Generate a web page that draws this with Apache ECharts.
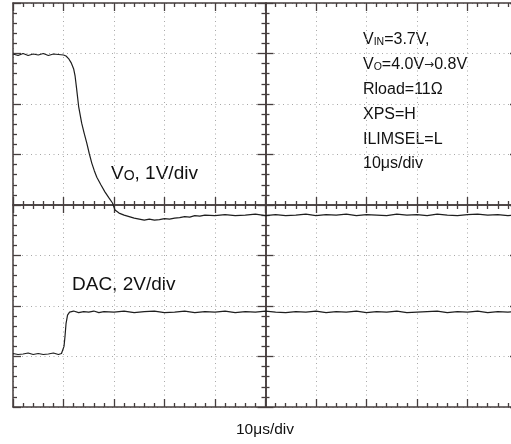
<!DOCTYPE html>
<html>
<head>
<meta charset="utf-8">
<script src="https://cdn.jsdelivr.net/npm/echarts@6/dist/echarts.min.js"></script>
<style>
html,body{margin:0;padding:0;background:#fff;}
#c{width:511px;height:444px;}
</style>
</head>
<body>
<div id="c"></div>
<script>
// Time in µs (10 µs/div), values in divisions
const voTime = [0,1,2,3,4,5,6,7,8,9,10,10.5,11,11.5,12,12.3,12.6,13,13.6,14.1,14.6,15.1,15.6,16.1,16.6,17.4,18.2,19,19.7,20.2,21,22,23,24,25,26,27,28,29,30,31,32,33,34,35,36,37,38,40,42,44,46,48,50,52,54,56,58,60,62,64,66,68,70,72,74,76,78,80,82,84,86,88,90,92,94,96,98,100];
const voValue = [2.99,2.96,3.00,2.96,2.99,2.97,3.00,2.96,2.99,2.98,2.97,2.95,2.90,2.82,2.70,2.55,2.30,1.95,1.62,1.42,1.23,1.02,0.83,0.68,0.55,0.40,0.26,0.14,0.04,-0.10,-0.16,-0.20,-0.23,-0.26,-0.28,-0.30,-0.28,-0.30,-0.29,-0.27,-0.28,-0.26,-0.25,-0.23,-0.24,-0.21,-0.22,-0.20,-0.21,-0.19,-0.21,-0.20,-0.18,-0.21,-0.19,-0.21,-0.20,-0.18,-0.21,-0.19,-0.20,-0.18,-0.21,-0.19,-0.20,-0.21,-0.18,-0.20,-0.19,-0.21,-0.18,-0.20,-0.21,-0.19,-0.18,-0.20,-0.19,-0.21,-0.19];
const dacTime = [0,1,2,3,4,5,6,7,8,9,9.6,9.9,10.1,10.3,10.5,10.8,11.2,12,13,14,15,16,17,18,20,22,24,26,28,30,32,34,36,38,40,42,44,46,48,50,52,54,56,58,60,62,64,66,68,70,72,74,76,78,80,82,84,86,88,90,92,94,96,98,100];
const dacValue = [-2.94,-2.96,-2.95,-2.93,-2.96,-2.94,-2.96,-2.95,-2.93,-2.96,-2.94,-2.92,-2.80,-2.60,-2.35,-2.18,-2.12,-2.10,-2.13,-2.11,-2.12,-2.10,-2.13,-2.11,-2.12,-2.10,-2.13,-2.11,-2.10,-2.13,-2.12,-2.10,-2.13,-2.11,-2.12,-2.10,-2.13,-2.11,-2.12,-2.10,-2.12,-2.13,-2.11,-2.12,-2.10,-2.13,-2.11,-2.12,-2.10,-2.13,-2.11,-2.12,-2.10,-2.13,-2.12,-2.11,-2.10,-2.13,-2.11,-2.12,-2.10,-2.13,-2.11,-2.12,-2.11];
const xTickInterval = 10;
const yTickInterval = 1;

const frameColor = '#463e3e';
const gridColor = '#a8a8a8';
const font = 'Liberation Sans, Arial, sans-serif';

function mkX(opt){
  return Object.assign({
    type:'value', min:0, max:100, interval:xTickInterval,
    axisLabel:{show:false},
    axisLine:{show:true, onZero:false, lineStyle:{color:frameColor, width:1.5}},
    axisTick:{show:true, inside:true, length:8, lineStyle:{color:frameColor, width:1.3}},
    minorTick:{show:true, splitNumber:5, length:4, lineStyle:{color:frameColor, width:1.3}},
    splitLine:{show:false},
    minorSplitLine:{show:false}
  }, opt);
}
function mkY(opt){
  return Object.assign({
    type:'value', min:-4, max:4, interval:yTickInterval,
    axisLabel:{show:false},
    axisLine:{show:true, onZero:false, lineStyle:{color:frameColor, width:1.5}},
    axisTick:{show:true, inside:true, length:8, lineStyle:{color:frameColor, width:1.3}},
    minorTick:{show:true, splitNumber:5, length:4, lineStyle:{color:frameColor, width:1.3}},
    splitLine:{show:false},
    minorSplitLine:{show:false}
  }, opt);
}
const dotted = {show:true, lineStyle:{color:gridColor, width:1, type:[1,3.5]}};

const chart = echarts.init(document.getElementById('c'), null, {renderer:'canvas'});
chart.setOption({
  animation:false,
  backgroundColor:'#ffffff',
  grid:{left:13, top:3, width:505, height:404, containLabel:false, outerBoundsMode:'none'},
  xAxis:[
    mkX({position:'bottom', splitLine:dotted}),
    mkX({position:'top'}),
    mkX({position:'bottom', min:-50, max:50, axisLine:{show:true, onZero:true, onZeroAxisIndex:0, lineStyle:{color:frameColor, width:1.5}}, axisTick:{show:true, inside:true, length:8, lineStyle:{color:frameColor, width:1.3}}}),
    mkX({position:'bottom', min:-50, max:50, axisLine:{show:true, onZero:true, onZeroAxisIndex:0, lineStyle:{color:frameColor, width:1.5}}, axisTick:{show:true, inside:false, length:8, lineStyle:{color:frameColor, width:1.3}}})
  ],
  yAxis:[
    mkY({position:'left', splitLine:dotted}),
    mkY({position:'right'}),
    mkY({position:'left', axisLine:{show:true, onZero:true, onZeroAxisIndex:2, lineStyle:{color:frameColor, width:1.5}}, axisTick:{show:true, inside:true, length:8, lineStyle:{color:frameColor, width:1.3}}}),
    mkY({position:'left', axisLine:{show:true, onZero:true, onZeroAxisIndex:2, lineStyle:{color:frameColor, width:1.5}}, axisTick:{show:true, inside:false, length:8, lineStyle:{color:frameColor, width:1.3}}})
  ],
  series:[
    {type:'line', name:'Vo', xAxisIndex:0, yAxisIndex:0, showSymbol:false, symbol:'none',
     data: voTime.map((t,i)=>[t, voValue[i]]),
     lineStyle:{color:'#1e1e1e', width:1.2}},
    {type:'line', name:'DAC', xAxisIndex:0, yAxisIndex:0, showSymbol:false, symbol:'none',
     data: dacTime.map((t,i)=>[t, dacValue[i]]),
     lineStyle:{color:'#1e1e1e', width:1.2}}
  ],
  graphic:[
    {type:'text', left:363, top:32, style:{
      text:'{n|V}{s|IN}{n|=3.7V,}\n{n|V}{s|O}{n|=4.0V}{a|→}{n|0.8V}\n{n|Rload=11Ω}\n{n|XPS=H}\n{n|ILIMSEL=L}\n{n|10μs/div}',
      rich:{
        n:{fontSize:16, fontFamily:font, fill:'#111', lineHeight:24.8, verticalAlign:'bottom'},
        s:{fontSize:10.5, fontFamily:font, fill:'#111', lineHeight:21, verticalAlign:'bottom'},
        a:{fontSize:12, fontFamily:'DejaVu Sans', fill:'#222', lineHeight:20, padding:[0,0,2,0], verticalAlign:'bottom'}
      }}},
    {type:'text', left:111, top:164, style:{
      text:'{n|V}{s|O}{n|, 1V/div}',
      rich:{
        n:{fontSize:19, fontFamily:font, fill:'#111', lineHeight:22, verticalAlign:'bottom'},
        s:{fontSize:14, fontFamily:font, fill:'#111', lineHeight:18.5, verticalAlign:'bottom'}
      }}},
    {type:'text', left:72, top:275, style:{text:'DAC, 2V/div', fontSize:19, fontFamily:font, fill:'#111'}},
    {type:'text', left:236, top:422, style:{text:'10μs/div', fontSize:15.5, fontFamily:font, fill:'#111'}}
  ]
});
</script>
</body>
</html>
